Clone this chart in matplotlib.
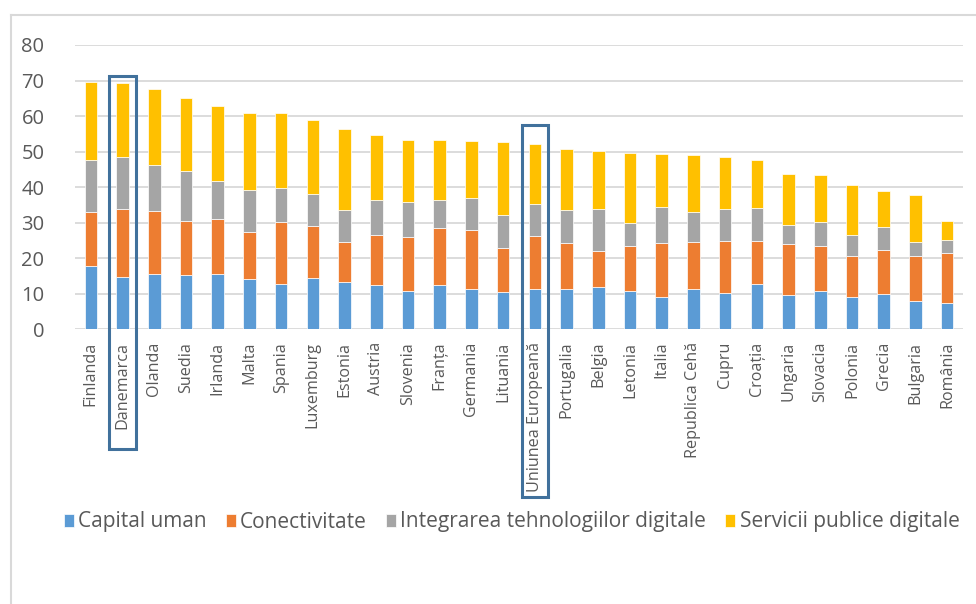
import matplotlib
matplotlib.use("Agg")
import matplotlib.pyplot as plt
from matplotlib.patches import Rectangle
from matplotlib.transforms import blended_transform_factory
import numpy as np

countries = ["Finlanda", "Danemarca", "Olanda", "Suedia", "Irlanda", "Malta",
             "Spania", "Luxemburg", "Estonia", "Austria", "Slovenia", "Franța",
             "Germania", "Lituania", "Uniunea Europeană", "Portugalia", "Belgia",
             "Letonia", "Italia", "Republica Cehă", "Cupru", "Croația", "Ungaria",
             "Slovacia", "Polonia", "Grecia", "Bulgaria", "România"]

capital_uman = [17.7, 14.6, 15.7, 15.4, 15.7, 14.1, 12.7, 14.3, 13.4, 12.6,
                10.9, 12.4, 11.2, 10.4, 11.3, 11.3, 12.0, 10.9, 9.0, 11.2,
                10.3, 12.8, 9.6, 10.9, 9.1, 9.9, 8.0, 7.5]
conectivitate = [15.2, 19.3, 17.5, 15.2, 15.2, 13.2, 17.5, 14.8, 11.1, 14.0,
                 15.0, 16.0, 16.8, 12.6, 15.0, 13.1, 10.1, 12.6, 15.4, 13.3,
                 14.6, 12.0, 14.3, 12.5, 11.6, 12.4, 12.7, 13.9]
integrare = [14.8, 14.6, 13.1, 13.9, 10.9, 12.0, 9.6, 8.9, 9.1, 9.9,
             10.0, 8.1, 9.0, 9.2, 9.0, 9.2, 11.8, 6.4, 10.1, 8.4,
             9.0, 9.3, 5.4, 6.9, 5.8, 6.6, 3.9, 3.8]
servicii = [21.9, 20.9, 21.2, 20.7, 21.0, 21.5, 21.0, 20.9, 22.9, 18.1,
            17.5, 16.7, 15.9, 20.4, 16.9, 17.1, 16.4, 19.7, 14.7, 16.2,
            14.5, 13.4, 14.5, 13.1, 14.0, 10.0, 13.1, 5.3]

series_names = ["Capital uman", "Conectivitate",
                "Integrarea tehnologiilor digitale", "Servicii publice digitale"]
series_colors = ["#5B9BD5", "#ED7D31", "#A5A5A5", "#FFC000"]
highlighted = ["Danemarca", "Uniunea Europeană"]

text_color = "#595959"
font = ["Open Sans", "DejaVu Sans"]
plt.rcParams["font.family"] = font

fig = plt.figure(figsize=(9.76, 6.04), dpi=100)
fig.patch.set_facecolor("white")

# outer chart-area frame (top and left edges visible)
fig.add_artist(plt.Line2D([11 / 976, 11 / 976], [0, 1 - 15 / 604],
                          transform=fig.transFigure, color="#D9D9D9", lw=1.5))
fig.add_artist(plt.Line2D([11 / 976, 1], [1 - 15 / 604, 1 - 15 / 604],
                          transform=fig.transFigure, color="#D9D9D9", lw=1.5))

ax = fig.add_axes([75 / 976, 274.7 / 604, 888 / 976, 284.3 / 604])
x = np.arange(len(countries))
bottom = np.zeros(len(countries))
for name, vals, col in zip(series_names,
                           [capital_uman, conectivitate, integrare, servicii],
                           series_colors):
    vals = np.array(vals)
    ax.bar(x, vals, width=0.4, bottom=bottom, color=col, label=name,
           edgecolor="white", linewidth=0.5, zorder=3)
    bottom += vals

ax.set_xlim(-0.5, len(countries) - 0.5)
ax.set_ylim(0, 80)
ax.set_yticks(range(0, 81, 10))
ax.yaxis.grid(True, color="#D9D9D9", linewidth=1.3, zorder=0)
ax.set_axisbelow(True)
for s in ax.spines.values():
    s.set_visible(False)
ax.tick_params(axis="both", length=0, colors=text_color)
ax.tick_params(axis="y", labelsize=14.5, pad=22)
ax.set_xticks(x)
ax.set_xticklabels(countries, rotation=90, fontsize=11.6, color=text_color)
ax.tick_params(axis="x", pad=9)

# highlight boxes around selected categories
trans = blended_transform_factory(ax.transData, fig.transFigure)
box_extent = {"Danemarca": (1 - 75.7 / 604, 1 - 449 / 604),
              "Uniunea Europeană": (1 - 125 / 604, 1 - 497 / 604)}
for name in highlighted:
    i = countries.index(name)
    top, bot = box_extent[name]
    ax.add_patch(Rectangle((i - 0.42, bot), 0.84, top - bot, transform=trans,
                           fill=False, edgecolor="#41719C", linewidth=2.2,
                           clip_on=False, zorder=5))

leg = fig.legend(loc="center", bbox_to_anchor=(511.5 / 976, 1 - 522 / 604),
                 ncol=4, frameon=False, fontsize=15, handlelength=0.5,
                 handleheight=0.6, handletextpad=0.2, columnspacing=0.9,
                 labelcolor=text_color)

fig.savefig("out.png", dpi=100, facecolor="white")
